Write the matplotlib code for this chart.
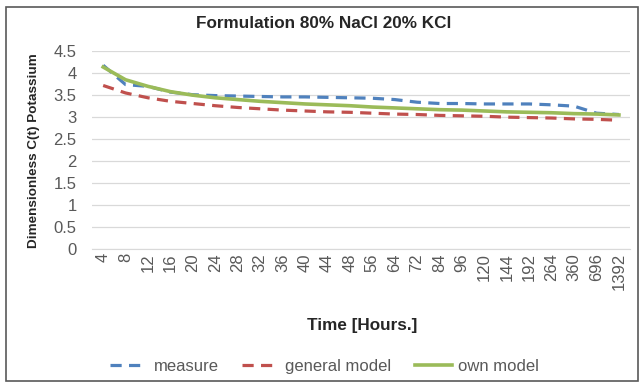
import matplotlib
matplotlib.use("Agg")
import matplotlib.pyplot as plt
from matplotlib.patches import Rectangle

plt.rcParams['font.family'] = ['Liberation Sans', 'DejaVu Sans']

categories = ["4", "8", "12", "16", "20", "24", "28", "32", "36", "40", "44", "48",
              "56", "64", "72", "84", "96", "120", "144", "192", "264", "360", "696", "1392"]
measure = [4.18, 3.74, 3.70, 3.57, 3.51, 3.49, 3.48, 3.47, 3.46, 3.46, 3.45, 3.44,
           3.43, 3.40, 3.34, 3.31, 3.31, 3.30, 3.30, 3.30, 3.28, 3.25, 3.09, 3.06]
general_model = [3.72, 3.55, 3.44, 3.36, 3.31, 3.26, 3.22, 3.19, 3.16, 3.14, 3.12, 3.11,
                 3.09, 3.07, 3.06, 3.04, 3.03, 3.02, 3.00, 2.99, 2.98, 2.96, 2.95, 2.93]
own_model = [4.14, 3.85, 3.70, 3.58, 3.50, 3.44, 3.40, 3.36, 3.33, 3.30, 3.28, 3.26,
             3.23, 3.21, 3.19, 3.17, 3.16, 3.14, 3.12, 3.11, 3.10, 3.08, 3.07, 3.05]
yticks = [0, 0.5, 1, 1.5, 2, 2.5, 3, 3.5, 4, 4.5]
ytick_labels = ["0", "0.5", "1", "1.5", "2", "2.5", "3", "3.5", "4", "4.5"]

fig = plt.figure(figsize=(6.43, 3.82), dpi=100)
ax = fig.add_axes([0.143, 0.348, 0.837, 0.518])

x = list(range(len(categories)))
ax.plot(x, measure, color="#4F81BD", lw=2.3, dashes=(3.5, 2.3), label="measure")
ax.plot(x, general_model, color="#C0504D", lw=2.3, dashes=(3.5, 2.3), label="general model")
ax.plot(x, own_model, color="#9BBB59", lw=2.6, label="own model")

ax.set_xlim(-0.5, len(categories) - 0.5)
ax.set_ylim(0, 4.5)
ax.set_yticks(yticks)
ax.set_yticklabels(ytick_labels)
ax.set_xticks(x)
ax.set_xticklabels(categories, rotation=90)
ax.tick_params(axis='both', length=0, labelsize=12, labelcolor="#595959")
ax.tick_params(axis='x', pad=3)
ax.tick_params(axis='y', pad=11)
ax.grid(axis='y', color="#D9D9D9", lw=0.9)
ax.set_axisbelow(True)
for s in ["top", "right", "left"]:
    ax.spines[s].set_visible(False)
ax.spines["bottom"].set_color("#D9D9D9")

fig.text(0.504, 0.938, "Formulation 80% NaCl 20% KCl", ha='center', va='center',
         fontsize=12.3, fontweight='bold', color="#262626")
fig.text(0.053, 0.607, "Dimensionless C(t) Potassium", ha='center', va='center', rotation=90,
         fontsize=9.7, fontweight='bold', color="#262626")
fig.text(0.563, 0.149, "Time [Hours.]", ha='center', va='center',
         fontsize=12.3, fontweight='bold', color="#262626")

leg = fig.legend(loc='center', bbox_to_anchor=(0.505, 0.04), ncol=3, frameon=False,
                 fontsize=12, handlelength=2.2, columnspacing=1.4, handletextpad=0.4)
for t in leg.get_texts():
    t.set_color("#595959")

fig.patches.append(Rectangle((0.0093, 0.003), 0.983, 0.979, transform=fig.transFigure,
                             fill=False, edgecolor="#595959", lw=1.2))

fig.savefig("out.png", dpi=100)
